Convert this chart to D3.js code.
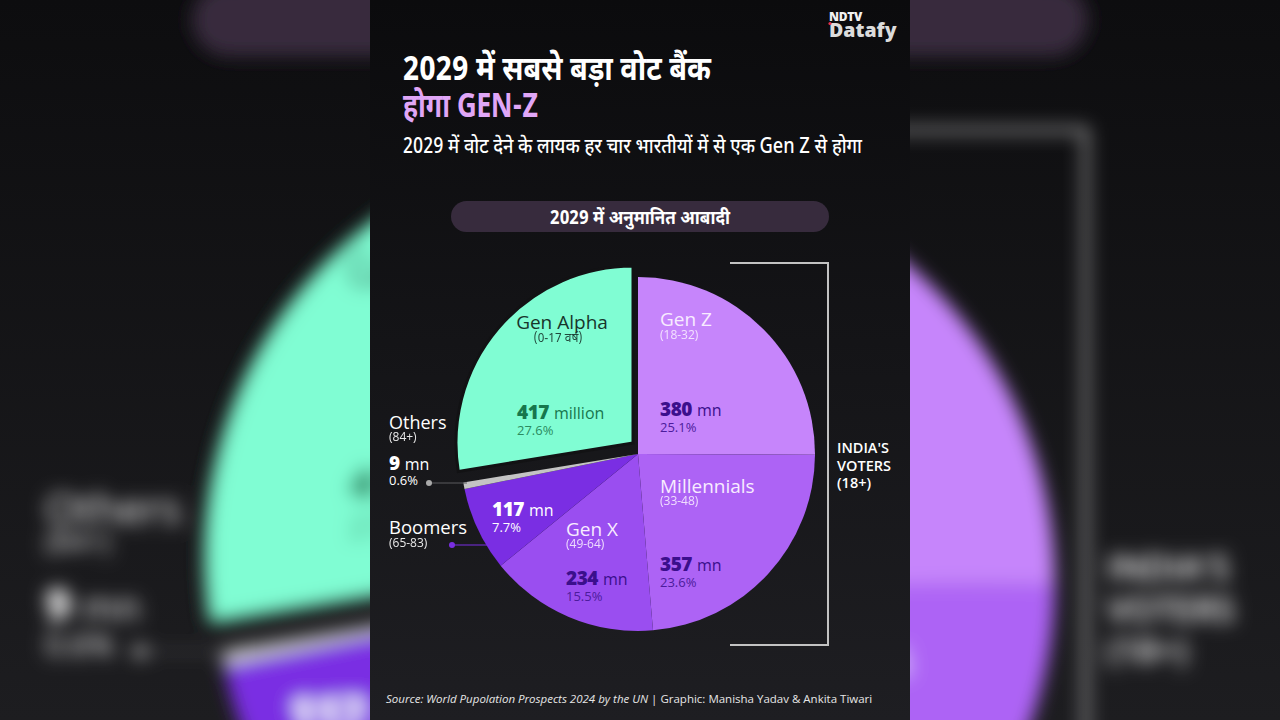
<!DOCTYPE html>
<html>
<head>
<meta charset="utf-8">
<script src="https://cdn.jsdelivr.net/npm/d3@7"></script>
<style>
  body { margin: 0; background: #151517; overflow: hidden; }
  svg { display: block; }
</style>
</head>
<body>
<svg id="chart" width="1280" height="720"></svg>
<script>
// 2029 projected population by generation (India)
const generations = ['Gen Z', 'Millennials', 'Gen X', 'Boomers', 'Others', 'Gen Alpha'];
const ageRanges = ['(18-32)', '(33-48)', '(49-64)', '(65-83)', '(84+)', '(0-17 वर्ष)'];
const millions = [380, 357, 234, 117, 9, 417];
const shares = [25.1, 23.6, 15.5, 7.7, 0.6, 27.6];
const units = ['mn', 'mn', 'mn', 'mn', 'mn', 'million'];
const sliceColors = ['#c685fb', '#ad63f5', '#9a4ef0', '#7a2ee3', '#c4c4c4', '#80fdd3'];

const titleLine1 = '2029 में सबसे बड़ा वोट बैंक';
const titleLine2 = 'होगा GEN-Z';
const subtitle = '2029 में वोट देने के लायक हर चार भारतीयों में से एक Gen Z से होगा';
const pillText = '2029 में अनुमानित आबादी';
const bracketLines = ["INDIA'S", 'VOTERS', '(18+)'];
const sourceText = 'Source: World Pupolation Prospects 2024 by the UN';
const creditText = ' | Graphic: Manisha Yadav & Ankita Tiwari';

const PANEL_W = 540, PANEL_H = 720;
const LATIN = '"Open Sans", "Noto Sans", sans-serif';
const HINDI = '"Noto Sans Devanagari", "Noto Sans", "Lato", sans-serif';

const svg = d3.select('#chart');
const defs = svg.append('defs');

function vGradient(id, top, bottom) {
    const gr = defs.append('linearGradient').attr('id', id)
        .attr('x1', 0).attr('y1', 0).attr('x2', 0).attr('y2', 1);
    gr.append('stop').attr('offset', '0%').attr('stop-color', top);
    gr.append('stop').attr('offset', '100%').attr('stop-color', bottom);
}
vGradient('panelBg', '#0b0b0d', '#1e1e22');
vGradient('outerBg', '#0d0d0f', '#1d1d20');

defs.append('filter').attr('id', 'blur')
    .attr('filterUnits', 'userSpaceOnUse')
    .attr('x', -50).attr('y', -50).attr('width', 1380).attr('height', 820)
    .append('feGaussianBlur').attr('stdDeviation', 9);

// draws the whole infographic in panel coords (540 x 720)
function drawPanel(g, withBg) {
    if (withBg) {
        g.append('rect').attr('width', PANEL_W).attr('height', PANEL_H).attr('fill', 'url(#panelBg)');
    }

    // logo
    g.append('text').attr('x', 459).attr('y', 21)
        .attr('font-family', LATIN).attr('font-weight', 800).attr('font-size', 12)
        .attr('letter-spacing', -0.3).attr('fill', '#f2f2f2').text('NDTV');
    g.append('text').attr('x', 459).attr('y', 37)
        .attr('font-family', LATIN).attr('font-weight', 800).attr('font-size', 19.5)
        .attr('fill', '#dcdcdc').text('Datafy');
    g.append('circle').attr('cx', 460).attr('cy', 23.5).attr('r', 1.6).attr('fill', '#e8314a');

    // titles
    g.append('text').attr('x', 33).attr('y', 80)
        .attr('font-family', HINDI).attr('font-weight', 700).attr('font-size', 34)
        .attr('textLength', 308).attr('lengthAdjust', 'spacingAndGlyphs')
        .attr('fill', '#ffffff').text(titleLine1);
    g.append('text').attr('x', 33).attr('y', 117)
        .attr('font-family', HINDI).attr('font-weight', 700).attr('font-size', 34)
        .attr('textLength', 135).attr('lengthAdjust', 'spacingAndGlyphs')
        .attr('fill', '#e0a6f7').text(titleLine2);
    g.append('text').attr('x', 33).attr('y', 153)
        .attr('font-family', HINDI).attr('font-weight', 500).attr('font-size', 21)
        .attr('textLength', 459).attr('lengthAdjust', 'spacingAndGlyphs')
        .attr('fill', '#ffffff').text(subtitle);

    // pill header
    g.append('rect').attr('x', 81).attr('y', 201).attr('width', 378).attr('height', 31)
        .attr('rx', 15.5).attr('fill', '#372b3d');
    g.append('text').attr('x', 270).attr('y', 224).attr('text-anchor', 'middle')
        .attr('font-family', HINDI).attr('font-weight', 700).attr('font-size', 19)
        .attr('textLength', 180).attr('lengthAdjust', 'spacingAndGlyphs')
        .attr('fill', '#ffffff').text(pillText);

    // pie
    const cx = 268, cy = 454, R = 177;
    const pie = d3.pie().sort(null).value(d => d.share);
    const arc = d3.arc().innerRadius(0).outerRadius(R);
    const rows = generations.map((name, i) => ({
        name, range: ageRanges[i], value: millions[i], share: shares[i],
        unit: units[i], color: sliceColors[i]
    }));
    const arcs = pie(rows);

    const pieG = g.append('g').attr('transform', `translate(${cx},${cy})`);
    pieG.selectAll('path')
        .data(arcs)
        .enter().append('path')
        .attr('d', arc)
        .attr('fill', d => d.data.color)
        .attr('stroke', d => d.data.name === 'Gen Alpha' ? '#121214' : 'none')
        .attr('stroke-width', 3)
        .attr('transform', d => d.data.name === 'Gen Alpha' ? 'translate(-5,-11)' : null);

    // bracket for voters
    g.append('path')
        .attr('d', 'M360,263 H458 V645 H360')
        .attr('fill', 'none').attr('stroke', '#c2c2c2').attr('stroke-width', 2);
    bracketLines.forEach((t, i) => {
        g.append('text').attr('x', 467).attr('y', 453 + i * 17.5)
            .attr('font-family', LATIN).attr('font-weight', 600).attr('font-size', 14.5)
            .attr('fill', '#ffffff').text(t);
    });

    // slice label spots
    const labelLayout = {
        'Gen Alpha':  { x: 147, ny: 329, ry: 342, vy: 419, py: 435, nameAnchor: 'middle', nameX: 192, rangeX: 188,
                        nameFill: '#17352b', numFill: '#17774d', pctFill: '#2b8b5f' },
        'Gen Z':      { x: 290, ny: 326, ry: 339, vy: 416, py: 432, nameFill: '#f8ecff', numFill: '#3b0f8c', pctFill: '#4c1c9c' },
        'Millennials':{ x: 290, ny: 493, ry: 505, vy: 571, py: 587, nameFill: '#f8ecff', numFill: '#3b0f8c', pctFill: '#4c1c9c' },
        'Gen X':      { x: 196, ny: 536, ry: 548, vy: 585, py: 601, nameFill: '#f8ecff', numFill: '#3b0f8c', pctFill: '#4c1c9c' },
        'Boomers':    { x: 122, vy: 516, py: 532, outside: { x: 19, ny: 534, ry: 547 },
                        numFill: '#ffffff', pctFill: '#ffffff', nameFill: '#ffffff' },
        'Others':     { x: 19, ny: 429, ry: 441, vy: 470, py: 485, nameFill: '#ffffff', numFill: '#ffffff', pctFill: '#ffffff' }
    };

    arcs.forEach(a => {
        const d = a.data;
        const L = labelLayout[d.name];
        const nx = L.outside ? L.outside.x : (L.nameX || L.x);
        const ny = L.outside ? L.outside.ny : L.ny;
        const rx = L.outside ? L.outside.x : (L.rangeX || L.x);
        const ry = L.outside ? L.outside.ry : L.ry;
        const anchor = L.nameAnchor || 'start';
        const big = d.name === 'Others' ? 18 : (d.name === 'Boomers' ? 18.5 : 19);

        g.append('text').attr('x', nx).attr('y', ny).attr('text-anchor', anchor)
            .attr('font-family', LATIN).attr('font-size', big)
            .attr('fill', L.nameFill).text(d.name);
        g.append('text').attr('x', rx).attr('y', ry).attr('text-anchor', anchor)
            .attr('font-family', d.name === 'Gen Alpha' ? HINDI : LATIN).attr('font-size', 12)
            .attr('fill', L.nameFill).attr('opacity', 0.9).text(d.range);

        const v = g.append('text').attr('x', L.x).attr('y', L.vy)
            .attr('font-family', LATIN).attr('fill', L.numFill);
        v.append('tspan').attr('font-weight', 800).attr('font-size', 19).attr('letter-spacing', -0.5).text(d.value);
        v.append('tspan').attr('font-size', 16).attr('dx', 5).text(d.unit);

        g.append('text').attr('x', L.x).attr('y', L.py)
            .attr('font-family', LATIN).attr('font-size', 13)
            .attr('fill', L.pctFill).text(d3.format('.1f')(d.share) + '%');
    });

    // leader lines
    g.append('line').attr('x1', 59).attr('x2', 97).attr('y1', 483).attr('y2', 483)
        .attr('stroke', '#5a5a5e').attr('stroke-width', 1.2);
    g.append('circle').attr('cx', 59).attr('cy', 483).attr('r', 3).attr('fill', '#a9a9a9');
    g.append('line').attr('x1', 82).attr('x2', 119).attr('y1', 545).attr('y2', 545)
        .attr('stroke', '#7a2ee3').attr('stroke-width', 1.2);
    g.append('circle').attr('cx', 82).attr('cy', 545).attr('r', 3).attr('fill', '#7a2ee3');

    // source line
    const src = g.append('text').attr('x', 16).attr('y', 703)
        .attr('font-family', LATIN).attr('font-size', 11.5).attr('fill', '#e6e6e6');
    src.append('tspan').attr('font-style', 'italic').text(sourceText);
    src.append('tspan').text(creditText);
}

// plain backdrop for the whole frame
svg.append('rect').attr('width', 1280).attr('height', 720).attr('fill', 'url(#outerBg)');

// blurred, enlarged copy behind
const bg = svg.append('g').attr('filter', 'url(#blur)').attr('aria-hidden', 'true');
drawPanel(bg.append('g')
    .attr('transform', `translate(640,360) scale(${1280 / PANEL_W}) translate(${-PANEL_W / 2},${-PANEL_H / 2})`), false);

// crisp panel in the middle
drawPanel(svg.append('g').attr('transform', 'translate(370,0)'), true);
</script>
</body>
</html>
